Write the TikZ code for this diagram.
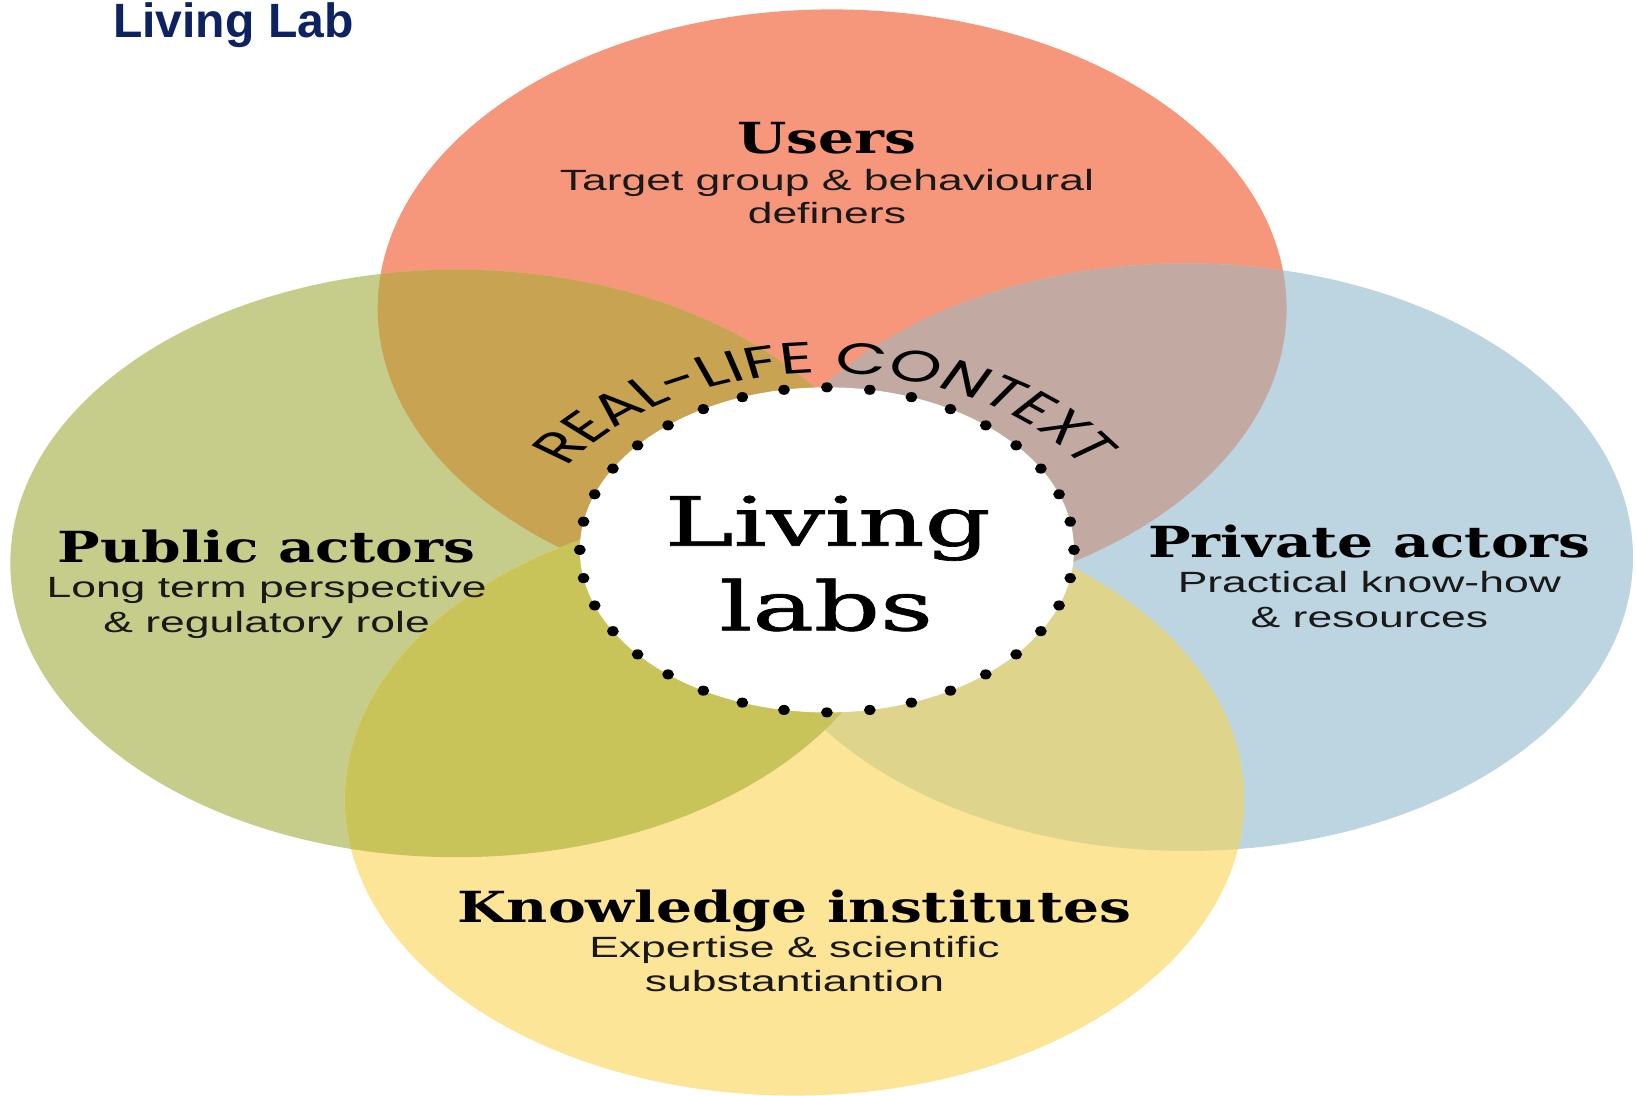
\documentclass[tikz,border=0pt]{standalone}
\usepackage{fontspec}
\setmainfont{Liberation Sans}
\newfontfamily\slabfont{DejaVu Serif}[FakeBold=1]
\newfontfamily\slabhead{DejaVu Serif}[FakeStretch=0.87]
\newfontfamily\ctxfont{Poppins}
\usetikzlibrary{decorations.text,calc}
\definecolor{cuser}{HTML}{F6967A}
\definecolor{cpub}{HTML}{C6CD8A}
\definecolor{cpriv}{HTML}{BCD5E0}
\definecolor{cknow}{HTML}{FCE596}
\definecolor{cug}{HTML}{C8A352}
\definecolor{cub}{HTML}{C2A9A1}
\definecolor{cgy}{HTML}{C8C45A}
\definecolor{cby}{HTML}{DED48B}
\definecolor{titleblue}{HTML}{0D2260}
\tikzset{
  head/.style={font=\slabhead\bfseries\fontsize{41}{41}\selectfont, anchor=base, inner sep=0pt, text=black},
  sub/.style={font=\fontsize{28}{28}\selectfont, anchor=base, inner sep=0pt, text=black!90},
  centre/.style={font=\slabfont\fontsize{65}{65}\selectfont, anchor=base, inner sep=0pt, text=black},
  dotmark/.style={fill=black},
}
\begin{document}
\begin{tikzpicture}[x=1pt,y=1pt]
\path[use as bounding box, fill=white] (0,0) rectangle (1565,-1047.5);
\node[anchor=base west, inner sep=0pt, font=\bfseries\fontsize{46}{46}\selectfont, text=titleblue] (title) at (108,-36) {Living Lab};
\begin{scope}[transform canvas={xscale=1.52}]
  \coordinate (U) at (523.7,-295);
  \coordinate (G) at (287.5,-539);
  \coordinate (B) at (746.7,-533);
  \coordinate (Y) at (500,-765);
  \coordinate (C) at (520.4,-526);
  \coordinate (T) at (519,-549);
  \fill[cuser] (U) circle[radius=286];
  \fill[cpub] (G) circle[radius=281];
  \fill[cpriv] (B) circle[radius=281];
  \fill[cknow] (Y) circle[radius=283];
  \begin{scope}\clip (U) circle[radius=286]; \fill[cug] (G) circle[radius=281];\end{scope}
  \begin{scope}\clip (U) circle[radius=286]; \fill[cub] (B) circle[radius=281];\end{scope}
  \begin{scope}\clip (Y) circle[radius=283]; \fill[cby] (B) circle[radius=281];\end{scope}
  \begin{scope}\clip (Y) circle[radius=283]; \fill[cgy] (G) circle[radius=281];\end{scope}
  \fill[white] (C) circle[radius=155.5];
  \foreach \a in {0,10,...,350}
    \fill[dotmark] ($(C)+(\a:155.5)$) ellipse[x radius=3.7, y radius=4.8];
  \path[decorate, decoration={text along path, text align=center,
        text={|\ctxfont\fontsize{42}{42}\selectfont|REAL-LIFE CONTEXT}}]
        ($(T)+(165:192)$) arc[start angle=165, end angle=15, radius=192];
  \node[centre] (living) at (521,-522) {Living};
  \node[centre] (labs) at (520,-603) {labs};
  \node[head] (users) at (520.4,-147) {Users};
  \node[sub] (users1) at (520.4,-182) {Target group \& behavioural};
  \node[sub] (users2) at (520.4,-214) {definers};
  \node[head] (pub) at (167.8,-538) {Public actors};
  \node[sub] (pub1) at (167.8,-572) {Long term perspective};
  \node[sub] (pub2) at (167.8,-605) {\& regulatory role};
  \node[head] (priv) at (861.8,-533) {Private actors};
  \node[sub] (priv1) at (861.8,-567) {Practical know-how};
  \node[sub] (priv2) at (861.8,-600) {\& resources};
  \node[head] (know) at (500,-882) {Knowledge institutes};
  \node[sub] (know1) at (500,-916) {Expertise \& scientific};
  \node[sub] (know2) at (500,-948) {substantiantion};
\end{scope}
\end{tikzpicture}
\end{document}
